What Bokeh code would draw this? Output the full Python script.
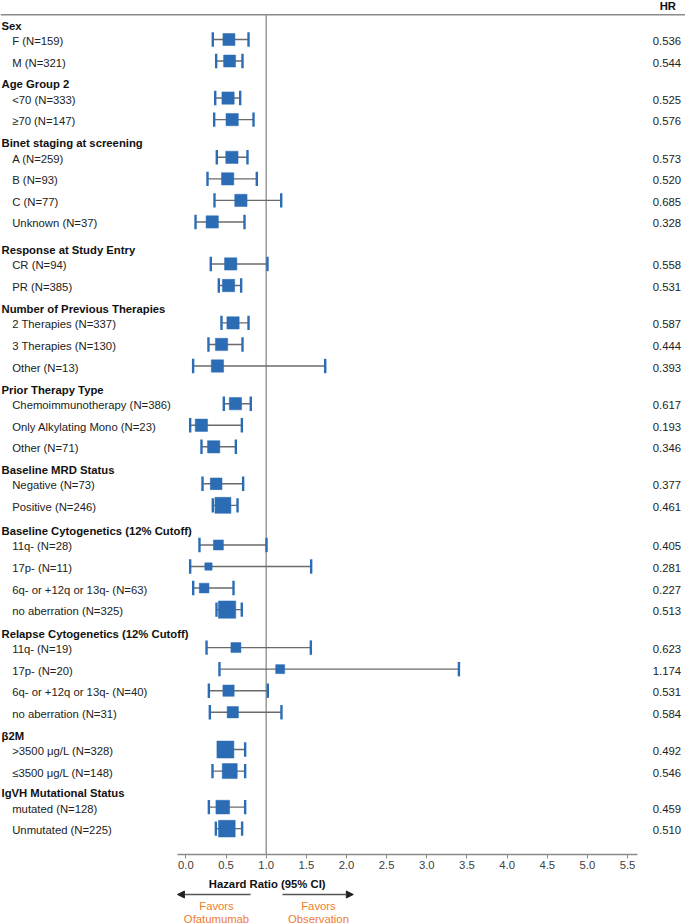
from bokeh.plotting import figure
from bokeh.models import (Range1d, LinearAxis, FixedTicker, PrintfTickFormatter,
                          Arrow, NormalHead, ColumnDataSource)
from bokeh.core.properties import value
from bokeh.embed import file_html
from bokeh.resources import INLINE

# ---------------- data ----------------
group_names = [
    "Sex", "Age Group 2", "Binet staging at screening", "Response at Study Entry",
    "Number of Previous Therapies", "Prior Therapy Type", "Baseline MRD Status",
    "Baseline Cytogenetics (12% Cutoff)", "Relapse Cytogenetics (12% Cutoff)",
    "\u03b22M", "IgVH Mutational Status",
]
subgroups = [
    ["F (N=159)", "M (N=321)"],
    ["<70 (N=333)", "\u226570 (N=147)"],
    ["A (N=259)", "B (N=93)", "C (N=77)", "Unknown (N=37)"],
    ["CR (N=94)", "PR (N=385)"],
    ["2 Therapies (N=337)", "3 Therapies (N=130)", "Other (N=13)"],
    ["Chemoimmunotherapy (N=386)", "Only Alkylating Mono (N=23)", "Other (N=71)"],
    ["Negative (N=73)", "Positive (N=246)"],
    ["11q- (N=28)", "17p- (N=11)", "6q- or +12q or 13q- (N=63)", "no aberration (N=325)"],
    ["11q- (N=19)", "17p- (N=20)", "6q- or +12q or 13q- (N=40)", "no aberration (N=31)"],
    [">3500 \u03bcg/L (N=328)", "\u22643500 \u03bcg/L (N=148)"],
    ["mutated (N=128)", "Unmutated (N=225)"],
]
hr = [0.536, 0.544, 0.525, 0.576, 0.573, 0.520, 0.685, 0.328, 0.558, 0.531,
      0.587, 0.444, 0.393, 0.617, 0.193, 0.346, 0.377, 0.461, 0.405, 0.281,
      0.227, 0.513, 0.623, 1.174, 0.531, 0.584, 0.492, 0.546, 0.459, 0.510]
ci_low = [0.335, 0.377, 0.365, 0.352, 0.385, 0.269, 0.356, 0.120, 0.310, 0.410,
          0.443, 0.281, 0.090, 0.472, 0.053, 0.194, 0.207, 0.335, 0.169, 0.053,
          0.091, 0.381, 0.257, 0.418, 0.286, 0.298, 0.402, 0.331, 0.286, 0.373]
ci_high = [0.780, 0.705, 0.676, 0.842, 0.767, 0.883, 1.187, 0.730, 1.016, 0.688,
           0.780, 0.705, 1.735, 0.808, 0.697, 0.622, 0.713, 0.643, 1.004, 1.560,
           0.593, 0.696, 1.556, 3.400, 1.020, 1.190, 0.738, 0.738, 0.738, 0.700]
x_ticks = [0.0, 0.5, 1.0, 1.5, 2.0, 2.5, 3.0, 3.5, 4.0, 4.5, 5.0, 5.5]

# ---------------- styles / layout ----------------
box_px = [12, 12, 12.3, 12.3, 12.3, 12.3, 12.3, 12.3, 12.3, 12.3, 12.3, 12.3, 12.3,
          12.3, 12.3, 12.3, 11.7, 16, 10, 7.3, 9.7, 17.3, 10, 9, 11.3, 11.3, 17,
          15, 13.7, 16.7]

W, H = 685, 924
PX = 80.3            # pixels per HR unit
ZERO = 185.4         # pixel position of HR = 0 inside the figure
X0 = -ZERO / PX
X1 = (W - ZERO) / PX

FONT = "Liberation Sans"
FS = "11.3px"
BLUE = "#2b6cb4"
ORANGE = "#ED7D31"

ITEM_STEP = 21.55
GROUP_GAPS = [37.0, 37.7, 42.0, 37.4, 37.7, 37.0, 39.6, 38.0, 37.3, 36.0]
FIRST_Y = 39.0
TOP_Y = 14.3
AXIS_Y = 853.5

# compute row positions
item_y, head_y = [], []
y = FIRST_Y
for gi, subs in enumerate(subgroups):
    if gi > 0:
        y += GROUP_GAPS[gi - 1] - ITEM_STEP
    head_y.append(y - 14.0)
    for _ in subs:
        item_y.append(y)
        y += ITEM_STEP
item_labels = [s for subs in subgroups for s in subs]
n = len(item_labels)

p = figure(width=W, height=H, x_range=Range1d(X0, X1), y_range=Range1d(H, 0),
           x_axis_type=None, y_axis_type=None, toolbar_location=None,
           output_backend="svg", min_border=0, outline_line_color=None)
p.background_fill_color = "white"

# top rule and reference line
p.segment(x0=[X0], y0=[TOP_Y], x1=[X1], y1=[TOP_Y], line_color="#8a8a8a", line_width=1.5)
p.segment(x0=[1.0], y0=[TOP_Y], x1=[1.0], y1=[AXIS_Y], line_color="#9a9a9a", line_width=1.5)

src = ColumnDataSource(dict(y=item_y, ty=[v + 1.5 for v in item_y], hr=hr, lo=ci_low,
                            hi=ci_high, sz=box_px, lab=item_labels,
                            hrt=["%.3f" % v for v in hr],
                            lx=[X0 + 11.7 / PX] * n, rx=[X0 + 680.5 / PX] * n))

# CI lines
p.segment(x0="lo", y0="y", x1="hi", y1="y", source=src, line_color="#6a6a6a", line_width=1.4)
# caps
cap = 7.2
capsrc = ColumnDataSource(dict(lo=ci_low, hi=ci_high,
                               ya=[v - cap for v in item_y], yb=[v + cap for v in item_y]))
p.segment(x0="lo", y0="ya", x1="lo", y1="yb", source=capsrc, line_color=BLUE, line_width=2.4)
p.segment(x0="hi", y0="ya", x1="hi", y1="yb", source=capsrc, line_color=BLUE, line_width=2.4)
# boxes
p.scatter(x="hr", y="y", size="sz", marker="square", source=src,
          fill_color=BLUE, line_color=BLUE, line_width=0.5)

# left labels
p.text(x=[X0 + 1.0 / PX] * len(group_names), y=head_y, text=group_names,
       text_font=value(FONT), text_font_size=FS, text_font_style=value("bold"),
       text_baseline="middle", text_align="left", text_color="#111111")
p.text(x="lx", y="ty", text="lab", source=src,
       text_font=value(FONT), text_font_size=FS, text_baseline="middle",
       text_align="left", text_color="#222222")

# HR column
p.text(x="rx", y="ty", text="hrt", source=src,
       text_font=value(FONT), text_font_size=FS, text_baseline="middle",
       text_align="right", text_color="#222222")
p.text(x=[X0 + 675.5 / PX], y=[5.8], text=["HR"], text_font=value(FONT), text_font_size=FS,
       text_font_style=value("bold"), text_baseline="middle", text_align="right",
       text_color="#111111")

# x axis
ax = LinearAxis(ticker=FixedTicker(ticks=x_ticks), formatter=PrintfTickFormatter(format="%.1f"))
ax.fixed_location = AXIS_Y
ax.bounds = (-0.105, 5.63)
ax.axis_line_color = "#8a8a8a"
ax.axis_line_width = 1.5
ax.major_tick_line_color = "#8a8a8a"
ax.major_tick_out = 4
ax.major_tick_in = 0
ax.minor_tick_out = 0
ax.minor_tick_in = 0
ax.major_label_standoff = 3
ax.major_label_text_font = FONT
ax.major_label_text_font_size = FS
ax.major_label_text_color = "#404040"
p.add_layout(ax, "below")

p.text(x=[1.012], y=[883], text=["Hazard Ratio (95% CI)"], text_font=value(FONT),
       text_font_size=FS, text_font_style=value("bold"), text_baseline="middle",
       text_align="center", text_color="#111111")

# favors arrows
p.add_layout(Arrow(end=NormalHead(size=7, fill_color="#222222", line_color="#222222"),
                   x_start=0.805, y_start=894, x_end=-0.105, y_end=894,
                   line_color="#555555", line_width=1.5))
p.add_layout(Arrow(end=NormalHead(size=7, fill_color="#222222", line_color="#222222"),
                   x_start=1.203, y_start=894, x_end=2.085, y_end=894,
                   line_color="#555555", line_width=1.5))
p.text(x=[0.381, 0.381, 1.651, 1.651], y=[905, 918, 905, 918],
       text=["Favors", "Ofatumumab", "Favors", "Observation"],
       text_font=value(FONT), text_font_size=FS, text_baseline="middle",
       text_align="center", text_color=ORANGE)

open("out.html", "w").write(file_html(p, INLINE))
